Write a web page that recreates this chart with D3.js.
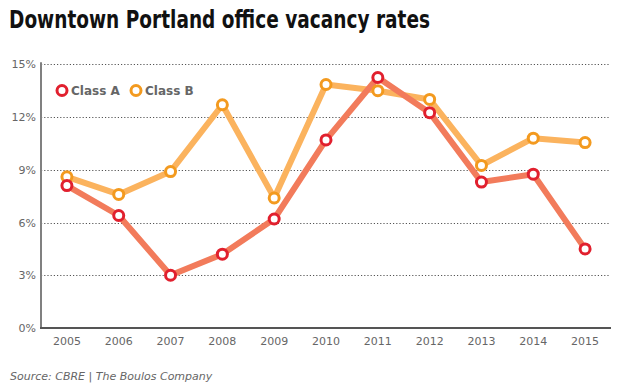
<!DOCTYPE html>
<html><head><meta charset="utf-8">
<script src="https://cdn.jsdelivr.net/npm/d3@7"></script>
<style>
html,body{margin:0;padding:0;background:#fff;}
svg{display:block;font-family:"DejaVu Sans",Verdana,sans-serif;}
</style></head>
<body>
<svg id="chart" width="624" height="390"></svg>
<script>
const years = ["2005","2006","2007","2008","2009","2010","2011","2012","2013","2014","2015"];
const classA = [8.1, 6.4, 3.0, 4.2, 6.2, 10.7, 14.25, 12.25, 8.3, 8.75, 4.5];
const classB = [8.6, 7.6, 8.9, 12.7, 7.4, 13.85, 13.5, 13.0, 9.25, 10.8, 10.55];
const yTicks = [0, 3, 6, 9, 12, 15];
const seriesNames = ["Class A", "Class B"];
const lineColors = ["#F27B5B", "#FBB35E"];
const markerColors = ["#E1202E", "#F39A1F"];

const svg = d3.select("#chart");
const mLeft = 41, mRight = 611, mTop = 64.3, mBottom = 328;

const x = d3.scaleBand().domain(years).range([mLeft, mRight]);
const y = d3.scaleLinear().domain([0, 15]).range([mBottom, mTop]);

svg.append("text").attr("x", 9).attr("y", 28)
  .attr("font-size", 24).attr("font-weight", "bold").attr("fill", "#111")
  .attr("textLength", 421).attr("lengthAdjust", "spacingAndGlyphs")
  .text("Downtown Portland office vacancy rates");

// gridlines
svg.append("g").selectAll("line").data(yTicks.filter(d => d > 0)).join("line")
  .attr("x1", mLeft).attr("x2", mRight - 1)
  .attr("y1", d => Math.round(y(d)) + 0.5).attr("y2", d => Math.round(y(d)) + 0.5)
  .attr("stroke", "#555").attr("stroke-width", 1).attr("stroke-dasharray", "1.2,2");

// y axis
const yAxis = svg.append("g").attr("transform", `translate(${mLeft},0)`)
  .call(d3.axisLeft(y).tickValues(yTicks).tickFormat(d => d + "%").tickSize(0).tickPadding(5));
yAxis.select(".domain").remove();
yAxis.selectAll("text").attr("font-size", 11).attr("fill", "#666")
  .attr("font-family", "'DejaVu Sans',Verdana,sans-serif");
svg.append("line").attr("x1", mLeft).attr("x2", mLeft).attr("y1", mTop - 2).attr("y2", mBottom)
  .attr("stroke", "#808080").attr("stroke-width", 2);

// x axis
const xAxis = svg.append("g").attr("transform", `translate(0,${mBottom})`)
  .call(d3.axisBottom(x).tickSize(0).tickPadding(9));
xAxis.select(".domain").remove();
xAxis.selectAll("text").attr("font-size", 11).attr("fill", "#666")
  .attr("font-family", "'DejaVu Sans',Verdana,sans-serif");
svg.append("line").attr("x1", mLeft - 1).attr("x2", mRight).attr("y1", mBottom).attr("y2", mBottom)
  .attr("stroke", "#555").attr("stroke-width", 2);

const line = d3.line().x((d, i) => x(years[i]) + x.bandwidth() / 2).y(d => y(d));
const series = [classA, classB];
[1, 0].forEach(s => {
  svg.append("path").datum(series[s]).attr("d", line)
    .attr("fill", "none").attr("stroke", lineColors[s]).attr("stroke-width", 6)
    .attr("stroke-linejoin", "round");
});
[1, 0].forEach(s => {
  svg.append("g").selectAll("circle").data(series[s]).join("circle")
    .attr("cx", (d, i) => x(years[i]) + x.bandwidth() / 2).attr("cy", d => y(d))
    .attr("r", 5).attr("fill", "#fff").attr("stroke", markerColors[s]).attr("stroke-width", 3);
});

// legend
const legendX = [62, 136];
seriesNames.forEach((n, s) => {
  svg.append("circle").attr("cx", legendX[s]).attr("cy", 90.5).attr("r", 5)
    .attr("fill", "#fff").attr("stroke", markerColors[s]).attr("stroke-width", 3);
  svg.append("text").attr("x", legendX[s] + 9).attr("y", 95)
    .attr("font-size", 12).attr("font-weight", "bold").attr("fill", "#666").text(n);
});

svg.append("text").attr("x", 10).attr("y", 380)
  .attr("font-size", 11).attr("font-style", "italic").attr("fill", "#666")
  .text("Source: CBRE | The Boulos Company");
</script>
</body></html>
